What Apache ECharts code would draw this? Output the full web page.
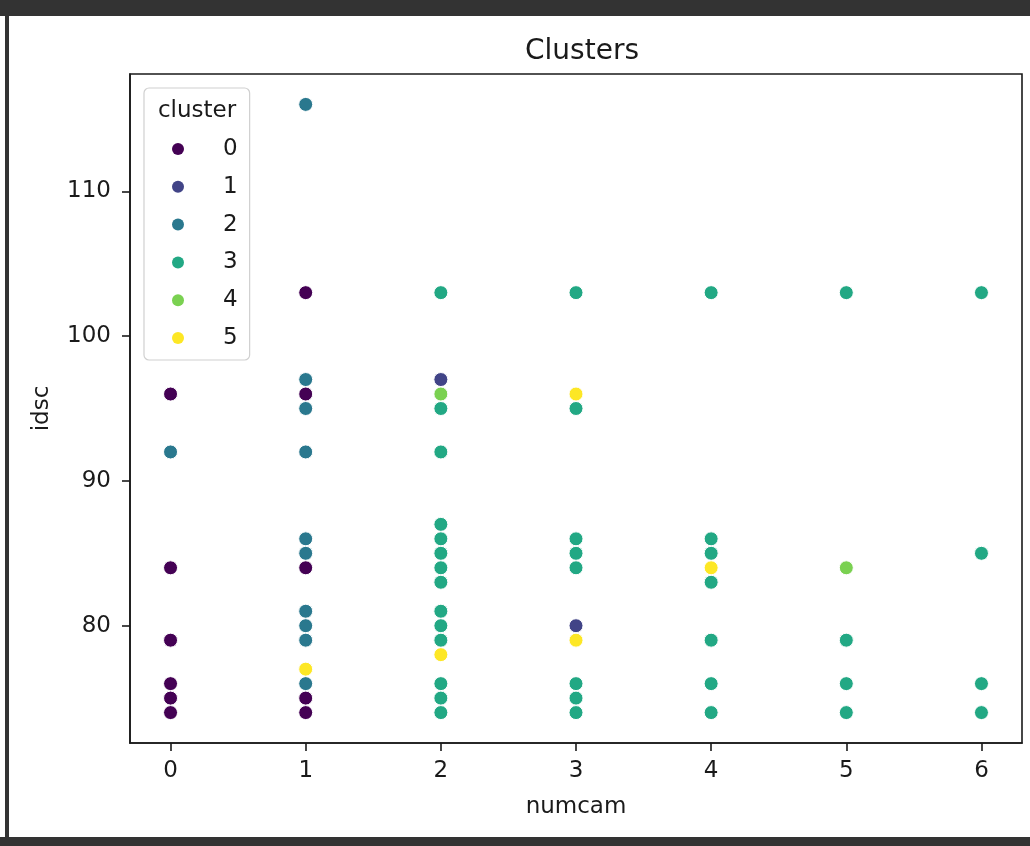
<!DOCTYPE html>
<html>
<head>
<meta charset="utf-8">
<script src="https://cdn.jsdelivr.net/npm/echarts@6/dist/echarts.min.js"></script>
<style>
html,body{margin:0;padding:0;background:#fff;}
#chart{width:1030px;height:846px;}
</style>
</head>
<body>
<div id="chart"></div>
<script>
// ---- data ----
const clusterNames = ['0', '1', '2', '3', '4', '5'];
const clusterColors = ['#440154', '#414487', '#2a788e', '#22a884', '#7ad151', '#fde725'];
const xTicks = [0, 1, 2, 3, 4, 5, 6];
const yTicks = [80, 90, 100, 110];

// [numcam, idsc] pairs per cluster
const cluster0 = [[0,96],[0,84],[0,79],[0,76],[0,75],[0,74],
                  [1,103],[1,96],[1,84],[1,75],[1,74]];
const cluster1 = [[2,97],[3,80]];
const cluster2 = [[0,92],
                  [1,116],[1,97],[1,95],[1,92],[1,86],[1,85],[1,81],[1,80],[1,79],[1,76]];
const cluster3 = [[2,103],[2,95],[2,92],[2,87],[2,86],[2,85],[2,84],[2,83],[2,81],[2,80],[2,79],[2,76],[2,75],[2,74],
                  [3,103],[3,95],[3,86],[3,85],[3,84],[3,76],[3,75],[3,74],
                  [4,103],[4,86],[4,85],[4,83],[4,79],[4,76],[4,74],
                  [5,103],[5,79],[5,76],[5,74],
                  [6,103],[6,85],[6,76],[6,74]];
const cluster4 = [[2,96],[5,84]];
const cluster5 = [[1,77],[2,78],[3,96],[3,79],[4,84]];
const clusterData = [cluster0, cluster1, cluster2, cluster3, cluster4, cluster5];

const FONT = 'DejaVu Sans';
const TXT = '#1a1a1a';

const chart = echarts.init(document.getElementById('chart'), null, {renderer: 'canvas'});

const series = clusterNames.map((name, i) => ({
  name: name,
  type: 'scatter',
  data: clusterData[i],
  symbol: 'circle',
  symbolSize: 14,
  itemStyle: {color: clusterColors[i], borderColor: '#fff', borderWidth: 1, opacity: 1},
  emphasis: {disabled: true},
  z: 2
}));

chart.setOption({
  animation: false,
  backgroundColor: '#fff',
  title: {
    text: 'Clusters',
    left: 577, top: 33, textAlign: 'center',
    textStyle: {fontFamily: FONT, fontSize: 28, fontWeight: 'normal', color: TXT}
  },
  grid: {
    left: 130, top: 74, right: 8, bottom: 103,
    show: true, borderColor: '#1a1a1a', borderWidth: 1.6, backgroundColor: 'transparent'
  },
  xAxis: {
    type: 'value',
    min: -0.3, max: 6.3,
    name: 'numcam', nameLocation: 'middle', nameGap: 53,
    nameTextStyle: {fontFamily: FONT, fontSize: 23, color: TXT},
    axisLine: {show: true, onZero: false, lineStyle: {color: '#1a1a1a', width: 1.6}},
    axisTick: {show: true, length: 8, lineStyle: {color: '#1a1a1a', width: 1.6}, customValues: xTicks},
    axisLabel: {customValues: xTicks, margin: 17, fontFamily: FONT, fontSize: 23, color: TXT},
    splitLine: {show: false}
  },
  yAxis: {
    type: 'value',
    min: 71.9, max: 118.1,
    name: 'idsc', nameLocation: 'middle', nameGap: 76, nameRotate: 90,
    nameTextStyle: {fontFamily: FONT, fontSize: 23, color: TXT},
    axisLine: {show: true, onZero: false, lineStyle: {color: '#1a1a1a', width: 1.6}},
    axisTick: {show: true, length: 8, lineStyle: {color: '#1a1a1a', width: 1.6}, customValues: yTicks},
    axisLabel: {customValues: yTicks, margin: 19, fontFamily: FONT, fontSize: 23, color: TXT},
    splitLine: {show: false}
  },
  legend: {
    data: clusterNames,
    orient: 'vertical',
    left: 144, top: 88,
    padding: [49, 12, 10, 28],
    itemGap: 13.8,
    itemWidth: 12, itemHeight: 12,
    icon: 'circle',
    backgroundColor: 'rgba(255,255,255,0.8)',
    borderColor: '#d0d0d0', borderWidth: 1.2, borderRadius: 5,
    selectedMode: false,
    textStyle: {fontFamily: FONT, fontSize: 23, color: TXT, lineHeight: 24, padding: [0, 0, 0, 34]},
    itemStyle: {borderWidth: 0}
  },
  graphic: [
    {type: 'text', z: 100, style: {x: 197, y: 111, text: 'cluster', fill: TXT,
      font: '23px "DejaVu Sans"', textAlign: 'center', textVerticalAlign: 'middle'}},
    {type: 'rect', z: 100, shape: {x: 0, y: 0, width: 1030, height: 16}, style: {fill: '#333'}},
    {type: 'rect', z: 100, shape: {x: 0, y: 837, width: 1030, height: 9}, style: {fill: '#333'}},
    {type: 'rect', z: 100, shape: {x: 5, y: 0, width: 4, height: 846}, style: {fill: '#333'}}
  ],
  series: series
});
</script>
</body>
</html>
